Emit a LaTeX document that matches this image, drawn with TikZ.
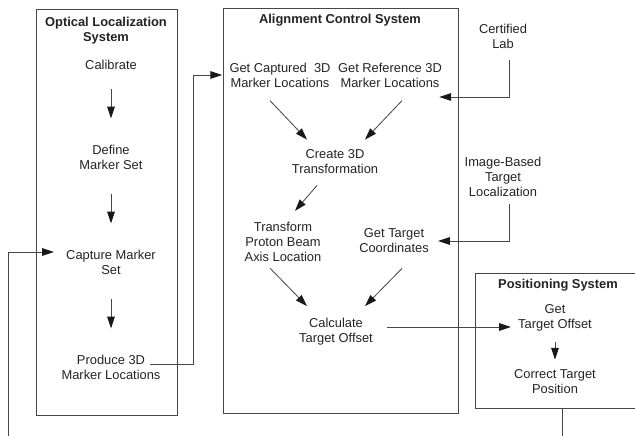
\documentclass[tikz,border=0pt]{standalone}
\usepackage{fontspec}
\setmainfont{Liberation Sans}
\usetikzlibrary{arrows.meta, positioning, calc, fit}
\definecolor{acsline}{RGB}{70, 70, 70}
\definecolor{acstext}{RGB}{35, 35, 35}

\begin{document}
\begin{tikzpicture}[
    x=0.3mm, y=-0.3mm,
    font=\fontsize{11}{12.8}\selectfont,
    flow/.style={-{Triangle[length=10pt, width=6.5pt, color=black!90]}, line width=0.7pt, draw=acsline},
    link/.style={line width=0.7pt, draw=acsline},
    vflow/.style={flow, shorten <=6.9mm, shorten >=7.5mm},
    sysbox/.style={rectangle, draw=acsline, line width=0.85pt, inner sep=0pt},
    systitle/.style={font=\fontsize{11}{12.8}\selectfont\bfseries, text=acstext,
        align=center, inner sep=1pt},
    stepnode/.style={text=acstext, align=center, inner sep=1pt}
]

% === Page frame ===
\useasboundingbox (0,0) rectangle (635,436);

% === Layout constants ===
\def\optx{111}
\def\extx{503}
\def\loopx{193}
\def\backx{8}
\def\lowy{460}

% === System boxes ===
\node[sysbox, fit={(36,9) (177,415)}] (optbox) {};
\node[sysbox, fit={(223,8) (458,413)}] (acsbox) {};
\node[sysbox, fit={(475,273) (650,408)}] (posbox) {};

\node[systitle] (opttitle) at (106,31) {Optical Localization\\System};
\node[systitle] (acstitle) at (340,20) {Alignment Control System};
\node[systitle] (postitle) at (558,285) {Positioning System};

% === Optical localization steps ===
\node[stepnode] (calib)   at (\optx,65)  {Calibrate};
\node[stepnode] (define)  at (\optx,157) {Define\\Marker Set};
\node[stepnode] (capture) at (\optx,262) {Capture Marker\\Set};
\node[stepnode] (produce) at (\optx,367) {Produce 3D\\Marker Locations};

\draw[vflow, shorten <=5.4mm] (calib) -- (define);
\draw[vflow] (define) -- (capture);
\draw[vflow] (capture) -- (produce);

% === Alignment control steps ===
\node[stepnode] (getcap)    at (280,75)  {Get Captured~ 3D\\Marker Locations};
\node[stepnode] (getref)    at (390,75)  {Get Reference 3D\\Marker Locations};
\node[stepnode] (create)    at (335,162) {Create 3D\\Transformation};
\node[stepnode] (transform) at (283,242) {Transform\\Proton Beam\\Axis Location};
\node[stepnode] (gettarget) at (394,241) {Get Target\\Coordinates};
\node[stepnode] (calc)      at (336,332) {Calculate\\Target Offset};

\draw[flow] ($(getcap.south)+(-10,12)$) -- ($(create.north)+(-28,-9)$);
\draw[flow] ($(getref.south)+(12,12)$) -- ($(create.north)+(30,-9)$);
\draw[flow] ($(create.south)+(-18,10)$) -- ($(transform.north)+(12,-10)$);
\draw[flow] ($(transform.south)+(-13,5)$) -- ($(calc.north)+(-29,-11)$);
\draw[flow] ($(gettarget.south)+(8,14)$) -- ($(calc.north)+(29,-11)$);

% === Outside sources ===
\node[stepnode] (certlab) at (\extx,36)  {Certified\\Lab};
\node[stepnode] (imgloc)  at (\extx,177) {Image-Based\\Target\\Localization};

\coordinate (labdrop) at ($(certlab.south)+(6,10)$);
\draw[flow] (labdrop) |- ($(getref.east)+(-4,22)$);
\coordinate (imgdrop) at ($(imgloc.south)+(6,6)$);
\draw[flow, shorten >=2.4mm] (imgdrop) |- (gettarget.east);

% === Positioning steps ===
\node[stepnode] (getoff)  at (555,318) {Get\\Target Offset};
\node[stepnode] (correct) at (555,382) {Correct Target\\Position};

\draw[flow, shorten <=2.7mm, shorten >=2.7mm] (getoff) -- (correct);

% === Links between systems ===
% marker locations handed over to the alignment system
\coordinate (prodout) at ($(produce.east)+(-12,-3)$);
\coordinate (turnx) at (\loopx,0);
\draw[flow, shorten >=1.8mm] (prodout) -| (turnx |- getcap.west) -- (getcap.west);

% target offset sent to positioning
\coordinate (offout) at ($(calc.east)+(13,-5)$);
\draw[flow, shorten >=1.8mm] (offout) -- (offout -| getoff.west);

% corrected position fed back to marker capture
\coordinate (capin) at ($(capture.west)+(-11,-10)$);
\coordinate (lowturn) at (\backx,\lowy);
\draw[flow] (posbox.south) |- (lowturn) |- (capin);

\end{tikzpicture}
\end{document}
